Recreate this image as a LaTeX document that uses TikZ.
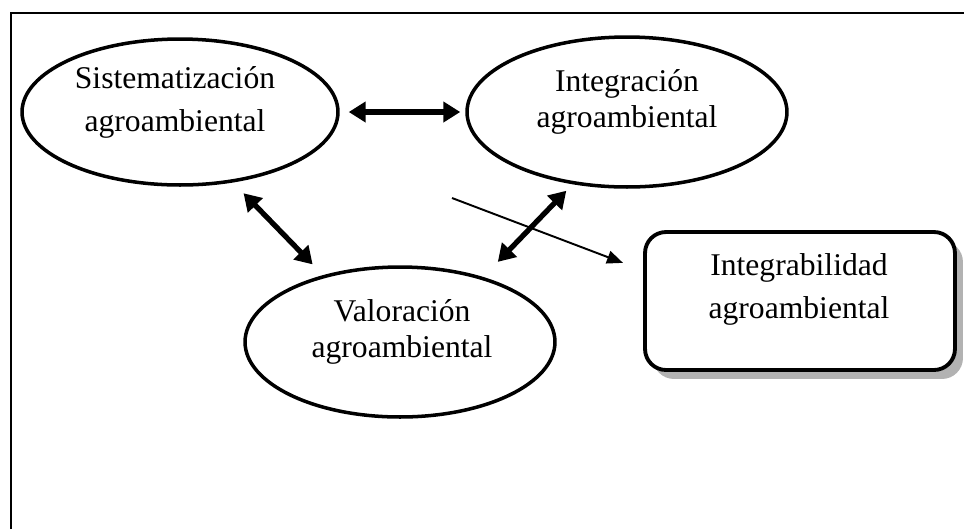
\documentclass[tikz,border=0pt]{standalone}
\usepackage{fontspec}
\setmainfont{Liberation Serif}
\usetikzlibrary{shapes.geometric, arrows.meta, shadows}
\tikzset{
blob/.style={ellipse, draw, line width=2pt, inner sep=0pt}, % the three ovals
box/.style={rectangle, rounded corners=0.42cm, draw, line width=2.2pt, fill=white,
  drop shadow={shadow xshift=0.16cm, shadow yshift=-0.18cm, fill=black!30, opacity=1}}, % the result box
lbl/.style={align=center, inner sep=0pt, font=\fontsize{18}{#1}\selectfont}, % two lines of text
lbl/.default=20.5pt,
twoway/.style={{Triangle[length=0.34cm,width=0.4cm]}-{Triangle[length=0.34cm,width=0.4cm]}, line width=3pt}, % thick double arrows
oneway/.style={-{Triangle[length=0.32cm,width=0.26cm]}, line width=1.1pt}, % the thin arrow
}

\begin{document}
\begin{tikzpicture}[x=0.02cm, y=-0.02cm]
  \useasboundingbox (0,0) rectangle (964,529);
  % frame, cut off at the right and at the bottom
  \draw[line width=1.1pt] (11,529) -- (11,13) -- (964,13);

  \node[blob, minimum width=6.32cm, minimum height=2.92cm] (sis) at (180,112) {};
  \node[blob, minimum width=6.4cm, minimum height=3cm] (int) at (627,112) {};
  \node[blob, minimum width=6.2cm, minimum height=3cm] (val) at (400,342) {};
  \node[box, minimum width=6.2cm, minimum height=2.76cm] (res) at (800,301) {};

  \node[lbl=24.5pt] (sistxt) at (175,102) {Sistematización\\agroambiental};
  \node[lbl] (inttxt) at (627,102) {Integración\\agroambiental};
  \node[lbl] (valtxt) at (402,332) {Valoración\\agroambiental};
  \node[lbl=24.5pt] (restxt) at (799,289) {Integrabilidad\\agroambiental};

  \coordinate (hub) at (452,198);

  \draw (sis.east) edge[twoway, shorten <=0.18cm, shorten >=0.1cm] (int.west)
        (sis.-53.3) edge[twoway, shorten <=0.3cm, shorten >=0.3cm] (val.139.6)
        (val.38.1) edge[twoway, shorten <=0.42cm, shorten >=0.18cm] (int.-127.3)
        (hub) edge[oneway, shorten >=0.43cm] (res.169);

\end{tikzpicture}
\end{document}
